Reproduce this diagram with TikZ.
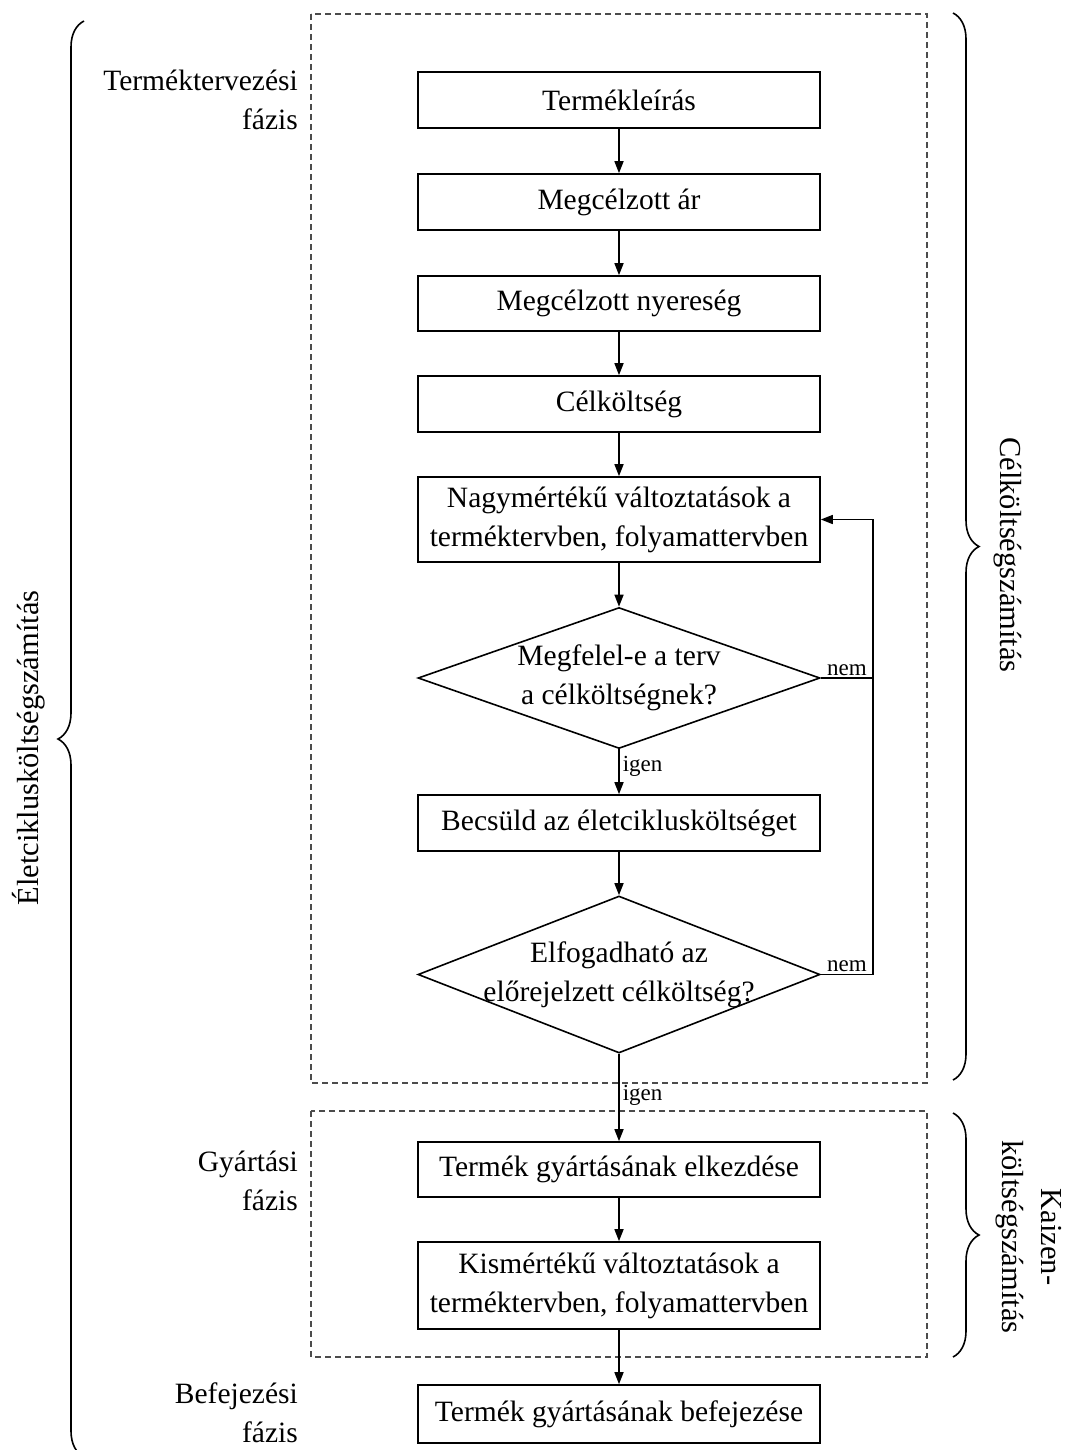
\documentclass[tikz,border=0pt]{standalone}
\usepackage{fontspec}
\setmainfont{Liberation Serif}
\usetikzlibrary{arrows.meta,shapes.geometric,decorations.pathreplacing}

\begin{document}
\begin{tikzpicture}[x=1pt,y=-1pt,
  every node/.style={font=\fontsize{29.5}{39}\selectfont},
  stepbox/.style={draw, line width=1.6pt, minimum width=402pt, inner sep=0pt, align=center},
  decision/.style={draw, diamond, line width=1.6pt, minimum width=402pt, inner sep=0pt},
  flow/.style={line width=1.5pt, -{Triangle[length=12pt,width=9pt]}},
  plain/.style={line width=1.5pt},
  phase/.style={dash pattern=on 6pt off 4pt, line width=1.3pt, draw=black!70},
  bracket/.style={decorate, decoration={brace, amplitude=26pt}, line width=1.6pt},
  small/.style={font=\fontsize{23}{28}\selectfont, inner sep=3pt},
  phaselabel/.style={align=right, anchor=east, inner sep=0pt},
  sidelabel/.style={font=\fontsize{30.5}{39}\selectfont, inner sep=0pt, align=center},
]
\useasboundingbox (0,0) rectangle (1065,1450);

% phase frames
\draw[phase] (311,14) rectangle (927,1083);
\draw[phase] (311,1111) rectangle (927,1357);

% flow steps
\node[stepbox, minimum height=56pt] (b1) at (619,100) {Termékleírás};
\node[stepbox, minimum height=56pt] (b2) at (619,202) {Megcélzott ár};
\node[stepbox, minimum height=55pt] (b3) at (619,303.5) {Megcélzott nyereség};
\node[stepbox, minimum height=56pt] (b4) at (619,404) {Célköltség};
\node[stepbox, minimum height=85pt] (b5) at (619,519.5) {Nagymértékű változtatások a\\terméktervben, folyamattervben};
\node[decision, minimum height=141pt] (d1) at (619,678) {};
\node[align=center, inner sep=0pt] (d1t) at (d1) {Megfelel-e a terv\\a célköltségnek?};
\node[stepbox, minimum height=56pt] (b6) at (619,823) {Becsüld az életciklusköltséget};
\node[decision, minimum height=157pt] (d2) at (619,974.5) {};
\node[align=center, inner sep=0pt] (d2t) at (d2) {Elfogadható az\\előrejelzett célköltség?};
\node[stepbox, minimum height=55pt] (b7) at (619,1169.5) {Termék gyártásának elkezdése};
\node[stepbox, minimum height=87pt] (b8) at (619,1285.5) {Kismértékű változtatások a\\terméktervben, folyamattervben};
\node[stepbox, minimum height=58pt] (b9) at (619,1414) {Termék gyártásának befejezése};

% main connectors
\draw[flow] (b1.south) -- (b2.north);
\draw[flow] (b2.south) -- (b3.north);
\draw[flow] (b3.south) -- (b4.north);
\draw[flow] (b4.south) -- (b5.north);
\draw[flow] (b5.south) -- (d1.north);
\draw[flow] (d1.south) -- node[small, right, pos=0.38] (y1) {igen} (b6.north);
\draw[flow] (b6.south) -- (d2.north);
\draw[flow] (d2.south) -- node[small, right, pos=0.47] (y2) {igen} (b7.north);
\draw[flow] (b7.south) -- (b8.north);
\draw[flow] (b8.south) -- (b9.north);

% feedback loop
\coordinate (r1) at (873,678);
\coordinate (r2) at (873,974.5);
\draw[plain] (d1.east) -- node[small, above, inner sep=2pt] (n1) {nem} (r1);
\draw[flow] (r1) |- (b5.east);
\draw[plain] (d2.east) -- node[small, above, inner sep=2pt] (n2) {nem} (r2) -- (r1);

% phase labels
\node[phaselabel] (p1) at (298,100) {Terméktervezési\\fázis};
\node[phaselabel] (p2) at (298,1181) {Gyártási\\fázis};
\node[phaselabel] (p3) at (298,1413) {Befejezési\\fázis};

% braces
\coordinate (lb1) at (84,1457);
\coordinate (lb2) at (84,21);
\draw[bracket] (lb1) -- (lb2);
\coordinate (rb1) at (953,13);
\coordinate (rb2) at (953,1080);
\draw[bracket] (rb1) -- (rb2);
\coordinate (kb1) at (953,1113);
\coordinate (kb2) at (953,1357);
\draw[bracket] (kb1) -- (kb2);

\node[sidelabel, rotate=90] (lc) at (29,748) {Életciklusköltségszámítás};
\node[sidelabel, rotate=-90] (ck) at (1008,555) {Célköltségszámítás};
\node[sidelabel, rotate=-90] (kz) at (1029,1237) {Kaizen-\\költségszámítás};
\end{tikzpicture}
\end{document}
